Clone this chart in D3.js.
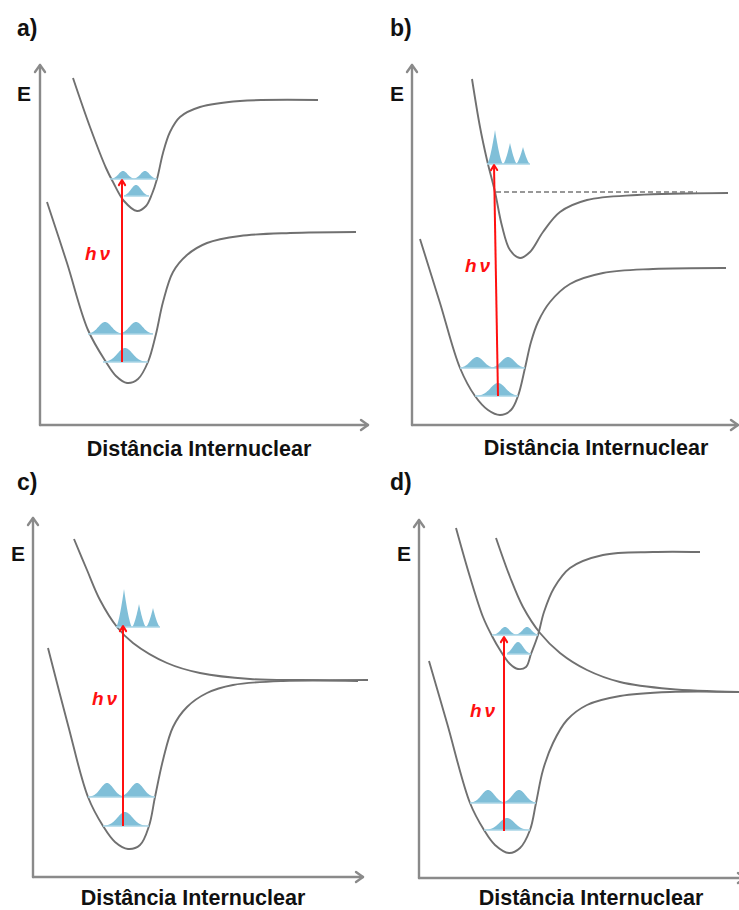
<!DOCTYPE html>
<html>
<head>
<meta charset="utf-8">
<script src="https://cdn.jsdelivr.net/npm/d3@7"></script>
<style>
  html, body { margin: 0; padding: 0; background: #fff; }
  svg { display: block; }
  text { font-family: "Liberation Sans", Arial, sans-serif; }
</style>
</head>
<body>
<svg id="chart" width="739" height="910"></svg>
<script>
// ---------- text ----------
const panelLabels = ["a)", "b)", "c)", "d)"];
const axisTitle = "Distância Internuclear";
const energyLabel = "E";
const photonLabel = "hν";

// ---------- panel placement (origin of each 370x460 panel box) ----------
const panelOrigins = [[0, 0], [370, 0], [0, 460], [370, 460]];

// ---------- axes in panel units: [xAxisPos, yTop, yBottom, xRight] ----------
const axesA = [40, 65, 425, 368];
const axesB = [42, 65, 425, 368];
const axesC = [33, 58, 417, 363];
const axesD = [49, 60, 418, 375];

// ---------- potential-energy curves (r, E) in panel units ----------
const aGround = [[47,202],[67,263],[88,330],[106,362],[116,376],[127,383],[138,379],[148,362],[156,334],[163,302],[173,272],[187,255],[207,243],[240,236],[290,233],[356,232]];
const aExcited = [[73,78],[90,127],[106,168],[113,182],[124,201],[137,211],[146,206],[152,194],[157,179],[163,153],[170,132],[180,117],[200,107],[240,101],[318,100]];

const bGround = [[50,239],[70,303],[90,368],[105,396],[118,410],[130,415],[141,410],[148,396],[155,368],[161,342],[168,322],[180,302],[200,284],[233,273],[283,269],[356,268]];
const bExcited = [[102,79],[110,127],[117,160],[125,192],[132,226],[140,250],[150,258],[160,252],[173,232],[190,212],[217,200],[267,195],[358,193]];
const bDissociation = [[126,192],[327,192]];

const cGround = [[48,188],[68,265],[88,337],[103,366],[115,382],[128,389],[140,385],[149,366],[155,337],[163,300],[173,267],[187,247],[207,233],[233,225],[283,221],[358,221]];
const cRepulsive = [[74,79],[87,110],[100,140],[117,167],[133,183],[167,203],[200,213],[250,219],[300,220],[368,220]];

const dGround = [[59,201],[77,263],[100,343],[114,370],[125,385],[139,393],[150,388],[160,370],[166,343],[173,310],[183,283],[197,260],[217,245],[250,236],[300,232],[369,232]];
const dExcited = [[86,68],[100,117],[113,157],[122,176],[130,190],[140,204],[148,209],[156,207],[161,194],[168,175],[174,152],[184,128],[200,108],[233,95],[283,92],[330,92]];
const dRepulsive = [[126,78],[140,117],[153,147],[170,173],[190,193],[217,210],[250,222],[300,229],[369,232]];

// ---------- vibrational wave packets: [baseE, rStart, rEnd, [[peakR, height, width], ...]] ----------
const aPackets = [
  [362, 103, 148, [[125, 14, 7.5]]],
  [334, 88, 153, [[105, 12, 6.5], [136, 12, 6.5]]],
  [196, 124, 149, [[136, 11, 5]]],
  [179, 110, 157, [[123, 8, 4.5], [145, 8, 4.5]]]
];
const bPackets = [
  [396, 105, 148, [[128, 13, 7.5]]],
  [368, 90, 155, [[107, 11, 6.5], [138, 11, 6.5]]],
  [164, 117, 160, [[125, 34, 8], [140, 21, 7], [153, 17, 7]]]
];
const cPackets = [
  [366, 103, 149, [[125, 14, 7.5]]],
  [337, 88, 155, [[107, 14, 6.5], [137, 14, 6.5]]],
  [167, 116, 160, [[124, 38, 8], [139, 23, 7], [153, 19, 7]]]
];
const dPackets = [
  [370, 114, 160, [[137, 12, 7.5]]],
  [343, 100, 166, [[118, 13, 6.5], [149, 13, 6.5]]],
  [194, 137, 161, [[148, 12, 5]]],
  [175, 122, 168, [[135, 8, 4.5], [157, 8, 4.5]]]
];

// ---------- photon arrows: [r0, E0, r1, E1] and hν label anchor ----------
const aArrow = [122, 362, 122, 180];
const bArrow = [128, 396, 124, 165];
const cArrow = [123, 366, 123, 166];
const dArrow = [134, 371, 134, 177];
const hvPos = [[85, 260], [95, 272], [92, 245], [100, 257]];

// ---------- label positions (panel units) ----------
const labelPos = [[17, 36], [20, 36], [17, 30], [20, 30]];
const ePos = [[17, 101], [20, 101], [11, 101], [27, 101]];
const titlePos = [[199, 456], [226, 455], [193, 445], [221, 445]];

const panels = [
  { axes: axesA, curves: [aGround, aExcited], dashed: [], packets: aPackets, arrow: aArrow },
  { axes: axesB, curves: [bGround, bExcited], dashed: [bDissociation], packets: bPackets, arrow: bArrow },
  { axes: axesC, curves: [cGround, cRepulsive], dashed: [], packets: cPackets, arrow: cArrow },
  { axes: axesD, curves: [dGround, dExcited, dRepulsive], dashed: [], packets: dPackets, arrow: dArrow }
];

// ---------- styles ----------
const axisColor = "#8a8a8a";
const curveColor = "#707070";
const packetFill = "#80bfd8";
const packetLine = "#a9d5e6";
const red = "#ff1010";

const svg = d3.select("#chart");

panels.forEach((p, i) => {
  const [ox, oy] = panelOrigins[i];
  const x = d3.scaleLinear().domain([0, 370]).range([ox, ox + 370]);
  const y = d3.scaleLinear().domain([0, 460]).range([oy, oy + 460]);
  const g = svg.append("g");

  // axes
  const [ax, yTop, yBot, xRight] = p.axes;
  const axG = g.append("g").attr("stroke", axisColor).attr("stroke-width", 2.4)
    .attr("fill", "none").attr("stroke-linecap", "round").attr("stroke-linejoin", "round");
  axG.append("line").attr("x1", x(ax)).attr("y1", y(yBot)).attr("x2", x(ax)).attr("y2", y(yTop));
  axG.append("line").attr("x1", x(ax)).attr("y1", y(yBot)).attr("x2", x(xRight)).attr("y2", y(yBot));
  axG.append("polyline").attr("points", [[x(ax) - 5, y(yTop) + 7], [x(ax), y(yTop)], [x(ax) + 5, y(yTop) + 7]].join(" "));
  axG.append("polyline").attr("points", [[x(xRight) - 7, y(yBot) - 5], [x(xRight), y(yBot)], [x(xRight) - 7, y(yBot) + 5]].join(" "));

  // curves
  const line = d3.line().x(d => x(d[0])).y(d => y(d[1])).curve(d3.curveCatmullRom.alpha(0.5));
  g.selectAll("path.curve").data(p.curves).join("path")
    .attr("class", "curve").attr("d", line)
    .attr("fill", "none").attr("stroke", curveColor).attr("stroke-width", 1.9);

  // dashed dissociation level
  g.selectAll("path.dash").data(p.dashed).join("path")
    .attr("class", "dash").attr("d", d3.line().x(d => x(d[0])).y(d => y(d[1])))
    .attr("fill", "none").attr("stroke", "#777").attr("stroke-width", 1.5)
    .attr("stroke-dasharray", "5,3");

  // wave packets
  p.packets.forEach(([base, r0, r1, peaks]) => {
    const tall = peaks.some(pk => pk[1] > 16);
    const pts = d3.range(r0, r1 + 0.01, 0.25).map(r => {
      let h = 0;
      peaks.forEach(([c, hh, w]) => {
        const u = Math.abs(r - c) / w;
        const v = tall ? Math.pow(Math.max(0, 1 - u), 1.5) : Math.exp(-0.5 * u * u);
        h = Math.max(h, hh * v);
      });
      return [r, base - h];
    });
    const area = d3.area().x(d => x(d[0])).y0(y(base)).y1(d => y(d[1]));
    g.append("path").attr("d", area(pts)).attr("fill", packetFill).attr("stroke", "none");
    g.append("line").attr("x1", x(r0)).attr("x2", x(r1)).attr("y1", y(base)).attr("y2", y(base))
      .attr("stroke", packetLine).attr("stroke-width", 1.5);
  });

  // photon arrow
  const [r0, e0, r1, e1] = p.arrow;
  const ang = Math.atan2(y(e1) - y(e0), x(r1) - x(r0));
  g.append("line").attr("x1", x(r0)).attr("y1", y(e0)).attr("x2", x(r1)).attr("y2", y(e1))
    .attr("stroke", red).attr("stroke-width", 2);
  const hx = x(r1), hy = y(e1), L = 6, spread = 0.55;
  g.append("polyline")
    .attr("points", [
      [hx - L * Math.cos(ang - spread), hy - L * Math.sin(ang - spread)],
      [hx, hy],
      [hx - L * Math.cos(ang + spread), hy - L * Math.sin(ang + spread)]
    ].join(" "))
    .attr("fill", "none").attr("stroke", red).attr("stroke-width", 2)
    .attr("stroke-linecap", "round").attr("stroke-linejoin", "round");

  // texts
  g.append("text").attr("x", x(hvPos[i][0])).attr("y", y(hvPos[i][1]))
    .attr("fill", red).attr("font-size", 19).attr("font-weight", "bold").attr("font-style", "italic")
    .attr("letter-spacing", 3).text(photonLabel);
  g.append("text").attr("x", x(labelPos[i][0])).attr("y", y(labelPos[i][1]))
    .attr("font-size", 23).attr("font-weight", "bold").attr("fill", "#111").text(panelLabels[i]);
  g.append("text").attr("x", x(ePos[i][0])).attr("y", y(ePos[i][1]))
    .attr("font-size", 21).attr("font-weight", "bold").attr("fill", "#111").text(energyLabel);
  g.append("text").attr("x", x(titlePos[i][0])).attr("y", y(titlePos[i][1]))
    .attr("text-anchor", "middle").attr("font-size", 21.5).attr("font-weight", "bold")
    .attr("fill", "#111").text(axisTitle);
});
</script>
</body>
</html>
